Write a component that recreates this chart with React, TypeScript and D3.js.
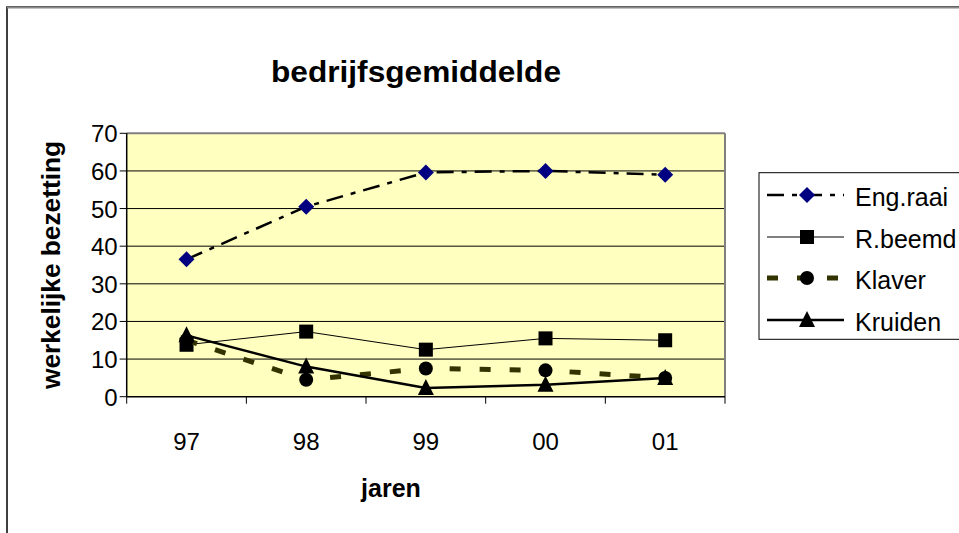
import React from "react";
import * as d3 from "d3";

const years = ["97", "98", "99", "00", "01"];
const engRaai = [36.5, 50.5, 59.6, 60, 59];
const rBeemd = [13.8, 17.3, 12.5, 15.5, 15];
const klaver = [15, 4.5, 7.5, 7, 5];
const kruiden = [16.3, 8, 2.3, 3.2, 5];
const yTicks = [0, 10, 20, 30, 40, 50, 60, 70];
const seriesNames = ["Eng.raai", "R.beemd", "Klaver", "Kruiden"];

const W = 959;
const H = 533;
const L = 126.7, R = 725, T = 133.3, B = 396.7;
const FONT = "'Liberation Sans', Arial, sans-serif";

const x = d3.scaleBand<string>().domain(years).range([L, R]);
const y = d3.scaleLinear().domain([0, 70]).range([B, T]);
const cx = (k: string) => (x(k) as number) + x.bandwidth() / 2;

type Style = { stroke: string; width: number; dash?: string; marker: string; fill: string; size: number };
const styles: Style[] = [
  { stroke: "#000000", width: 2.5, dash: "17,8,5,8", marker: "diamond", fill: "#000080", size: 8 },
  { stroke: "#000000", width: 1, marker: "square", fill: "#000000", size: 7 },
  { stroke: "#333300", width: 5, dash: "11,19", marker: "circle", fill: "#000000", size: 7 },
  { stroke: "#000000", width: 2.5, marker: "triangle", fill: "#000000", size: 8 },
];
const data = [engRaai, rBeemd, klaver, kruiden];

function Marker({ type, px, py, s, fill }: { type: string; px: number; py: number; s: number; fill: string }) {
  if (type === "diamond")
    return <path d={`M${px},${py - s}L${px + s},${py}L${px},${py + s}L${px - s},${py}Z`} fill={fill} />;
  if (type === "square") return <rect x={px - s} y={py - s} width={2 * s} height={2 * s} fill={fill} />;
  if (type === "circle") return <circle cx={px} cy={py} r={s} fill={fill} />;
  return <path d={`M${px},${py - s - 1}L${px + s},${py + s - 1}L${px - s},${py + s - 1}Z`} fill={fill} />;
}

function SText({ x: tx, y: ty, anchor = "start", size = 25, weight = "normal", children }: any) {
  return (
    <text x={tx} y={ty} textAnchor={anchor} fontFamily={FONT} fontSize={size} fontWeight={weight} fill="#000">
      {children}
    </text>
  );
}

export default function App() {
  const line = d3
    .line<number>()
    .x((_, i) => cx(years[i]))
    .y((v) => y(v));

  const legendRows = [197, 239, 280, 322];

  return (
    <svg width={W} height={H} style={{ position: "absolute", left: 0, top: 0, background: "#fff" }}>
      {/* outer chart border */}
      <rect x={7} y={7} width={1000} height={600} fill="#fff" stroke="#000" strokeWidth={1.5} />
      <line x1={7} x2={W} y1={7.5} y2={7.5} stroke="#888" strokeWidth={2} />

      {/* title */}
      <text x={416} y={82} textAnchor="middle" fontFamily={FONT} fontSize={29} fontWeight="bold" textLength={290} lengthAdjust="spacingAndGlyphs">
        bedrijfsgemiddelde
      </text>

      {/* plot area */}
      <rect x={L} y={T} width={R - L} height={B - T} fill="#FFFFC0" />
      {yTicks.filter((t) => t > 0 && t < 70).map((t) => (
        <line key={t} x1={L} x2={R} y1={y(t)} y2={y(t)} stroke="#000" strokeWidth={1} />
      ))}
      <line x1={L} x2={R} y1={T} y2={T} stroke="#808080" strokeWidth={2} />
      <line x1={R} x2={R} y1={T} y2={B} stroke="#808080" strokeWidth={2} />
      <line x1={L} x2={L} y1={T} y2={B} stroke="#000" strokeWidth={1.5} />
      <line x1={L} x2={R} y1={B} y2={B} stroke="#000" strokeWidth={1.5} />

      {/* y ticks */}
      {yTicks.map((t) => (
        <g key={t}>
          <line x1={L - 7} x2={L} y1={y(t)} y2={y(t)} stroke="#000" strokeWidth={1} />
          <SText x={L - 9} y={y(t) + 9} anchor="end" size={24}>{t}</SText>
        </g>
      ))}

      {/* x ticks */}
      {years.map((k) => (
        <line key={"t" + k} x1={(x(k) as number)} x2={(x(k) as number)} y1={B} y2={B + 7} stroke="#000" strokeWidth={1} />
      ))}
      <line x1={R} x2={R} y1={B} y2={B + 7} stroke="#000" strokeWidth={1} />
      {years.map((k) => (
        <SText key={"l" + k} x={cx(k)} y={450} anchor="middle" size={24}>{k}</SText>
      ))}

      {/* axis titles */}
      <SText x={391} y={497} anchor="middle" weight="bold" size={25}>jaren</SText>
      <text
        transform={`translate(60,265) rotate(-90)`}
        textAnchor="middle"
        fontFamily={FONT}
        fontSize={25}
        fontWeight="bold"
        textLength={248}
        lengthAdjust="spacingAndGlyphs"
      >
        werkelijke bezetting
      </text>

      {/* series */}
      {data.map((vals, si) => {
        const st = styles[si];
        return (
          <g key={si}>
            <path d={line(vals) || ""} fill="none" stroke={st.stroke} strokeWidth={st.width} strokeDasharray={st.dash} />
            {vals.map((v, i) => (
              <Marker key={i} type={st.marker} px={cx(years[i])} py={y(v)} s={st.size} fill={st.fill} />
            ))}
          </g>
        );
      })}

      {/* legend */}
      <rect x={759} y={172.7} width={260} height={166.6} fill="#fff" stroke="#000" strokeWidth={1} />
      {seriesNames.map((n, i) => {
        const st = styles[i];
        const ly = legendRows[i] - 2;
        return (
          <g key={n}>
            <line x1={767} x2={844} y1={ly} y2={ly} stroke={st.stroke} strokeWidth={st.width} strokeDasharray={st.dash} />
            <Marker type={st.marker} px={807} py={ly} s={st.size} fill={st.fill} />
            <SText x={855} y={legendRows[i] + 9} size={25}>{n}</SText>
          </g>
        );
      })}
    </svg>
  );
}
